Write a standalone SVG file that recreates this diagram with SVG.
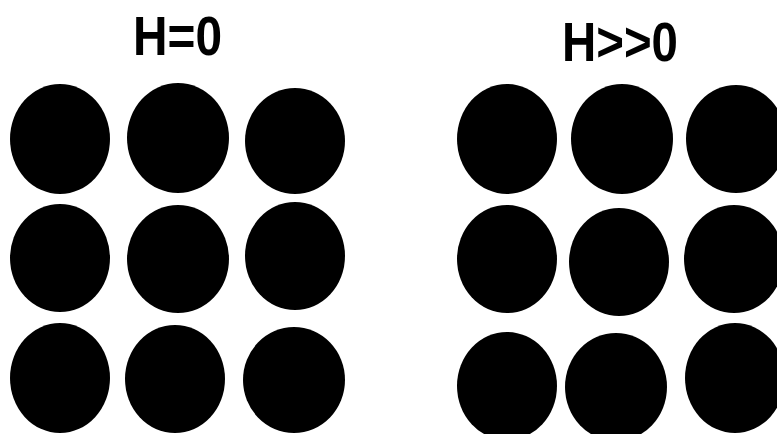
<svg xmlns="http://www.w3.org/2000/svg" width="777" height="434" viewBox="0 0 777 434">
<style>
.dot{fill:#000}
.lbl{font-family:"Liberation Sans",Arial,sans-serif;font-weight:bold;font-size:56px;fill:#000}
</style>
<rect width="777" height="434" fill="#fff"/>
<g id="label-left"><text class="lbl" x="133" y="55" textLength="89" lengthAdjust="spacingAndGlyphs">H=0</text></g>
<g id="label-right"><text class="lbl" x="562" y="61" textLength="116" lengthAdjust="spacingAndGlyphs">H&gt;&gt;0</text></g>
<g id="grid-left">
<ellipse class="dot" cx="60" cy="139" rx="50" ry="55"/>
<ellipse class="dot" cx="178" cy="138" rx="51" ry="55"/>
<ellipse class="dot" cx="295" cy="141" rx="50" ry="53"/>
<ellipse class="dot" cx="60" cy="258" rx="50" ry="54"/>
<ellipse class="dot" cx="178" cy="259" rx="51" ry="54"/>
<ellipse class="dot" cx="295" cy="256" rx="50" ry="54"/>
<ellipse class="dot" cx="60" cy="378" rx="50" ry="55"/>
<ellipse class="dot" cx="175" cy="379" rx="50" ry="54"/>
<ellipse class="dot" cx="294" cy="380" rx="51" ry="53"/>
</g>
<g id="grid-right">
<ellipse class="dot" cx="507" cy="139" rx="50" ry="55"/>
<ellipse class="dot" cx="622" cy="139" rx="51" ry="55"/>
<ellipse class="dot" cx="736" cy="139" rx="50" ry="54"/>
<ellipse class="dot" cx="507" cy="259" rx="50" ry="54"/>
<ellipse class="dot" cx="619" cy="262" rx="50" ry="54"/>
<ellipse class="dot" cx="734" cy="259" rx="50" ry="54"/>
<ellipse class="dot" cx="507" cy="386" rx="50" ry="54"/>
<ellipse class="dot" cx="616" cy="387" rx="51" ry="54"/>
<ellipse class="dot" cx="735" cy="378" rx="50" ry="55"/>
</g>
</svg>
